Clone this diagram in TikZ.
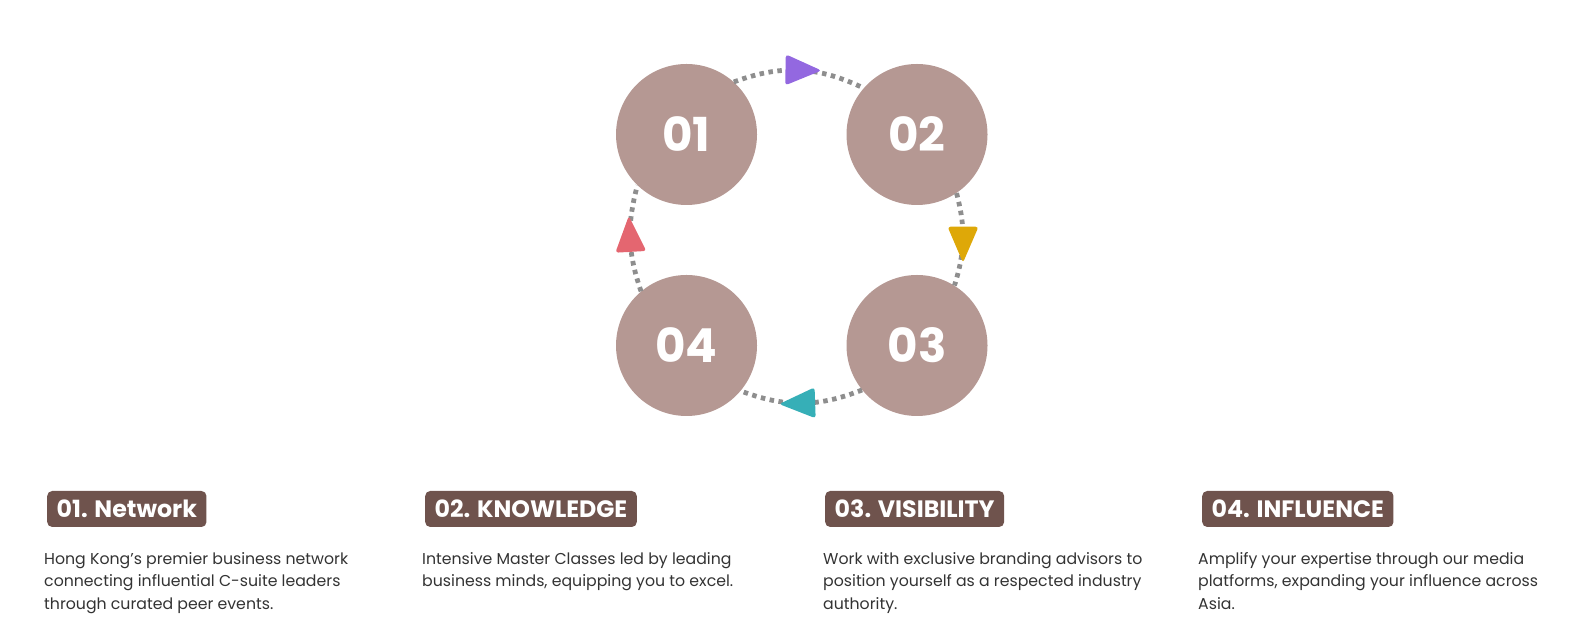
\documentclass[tikz,border=0pt]{standalone}
\usepackage{fontspec}
\setmainfont{Poppins}
\usetikzlibrary{shapes.geometric}
\definecolor{circfill}{HTML}{B59893}
\definecolor{boxfill}{HTML}{6F534D}
\definecolor{ringgray}{HTML}{8E8E8E}
\definecolor{bodytext}{HTML}{333333}
\definecolor{purp}{HTML}{9368E0}
\definecolor{gold}{HTML}{DEA808}
\definecolor{teal}{HTML}{36AFB7}
\definecolor{redd}{HTML}{E46670}
\tikzset{
  stepcirc/.style={circle, fill=circfill, minimum size=141bp, inner sep=0pt,
    text=white, font=\fontsize{47}{47}\selectfont\bfseries},
  ring/.style={draw=ringgray, line width=4.8bp, dash pattern=on 4.5bp off 4.5bp},
  tri/.style={isosceles triangle, isosceles triangle apex angle=60,
    isosceles triangle stretches, minimum width=31bp, minimum height=36bp,
    inner sep=0pt, rounded corners=3bp, sloped, allow upside down, pos=0.47, draw=none},
  tag/.style={rectangle, rounded corners=5bp, fill=boxfill, text=white,
    minimum height=36bp, inner xsep=9.5bp, anchor=west,
    font=\fontsize{23.8}{23.8}\selectfont\bfseries},
  body/.style={anchor=north west, inner sep=0pt, align=left, text=bodytext,
    font=\fontsize{15.8}{22.5}\selectfont},
}
\begin{document}
\begin{tikzpicture}[x=1bp,y=1bp]
\useasboundingbox (0,0) rectangle (1596,636);
% circles
\node[stepcirc] (c1) at (686.5,501.5) {01};
\node[stepcirc] (c2) at (917,501.5) {02};
\node[stepcirc] (c3) at (917,290.5) {03};
\node[stepcirc] (c4) at (686.5,290.5) {04};
% dotted connectors with triangles
\draw[ring] (c1.48) to[bend left=23] node[tri, fill=purp] (t1) {} (c2.139);
\draw[ring] (c2.-56) to[bend left=16] node[tri, fill=gold] (t2) {} (c3.58);
\draw[ring] (c3.-141) to[bend left=21] node[tri, fill=teal] (t3) {} (c4.-40);
\draw[ring] (c4.130) to[bend left=17] node[tri, fill=redd] (t4) {} (c1.-134);
% tags
\node[tag] (l1) at (47,127) {01. Network};
\node[tag] (l2) at (425,127) {02. KNOWLEDGE};
\node[tag] (l3) at (825,127) {03. VISIBILITY};
\node[tag] (l4) at (1202,127) {04. INFLUENCE};
% body texts
\node[body] (d1) at (44,84) {Hong Kong’s premier business network\\connecting influential C-suite leaders\\through curated peer events.};
\node[body] (d2) at (422,84) {Intensive Master Classes led by leading\\business minds, equipping you to excel.};
\node[body] (d3) at (823,84) {Work with exclusive branding advisors to\\position yourself as a respected industry\\authority.};
\node[body] (d4) at (1198,84) {Amplify your expertise through our media\\platforms, expanding your influence across\\Asia.};
\end{tikzpicture}
\end{document}
